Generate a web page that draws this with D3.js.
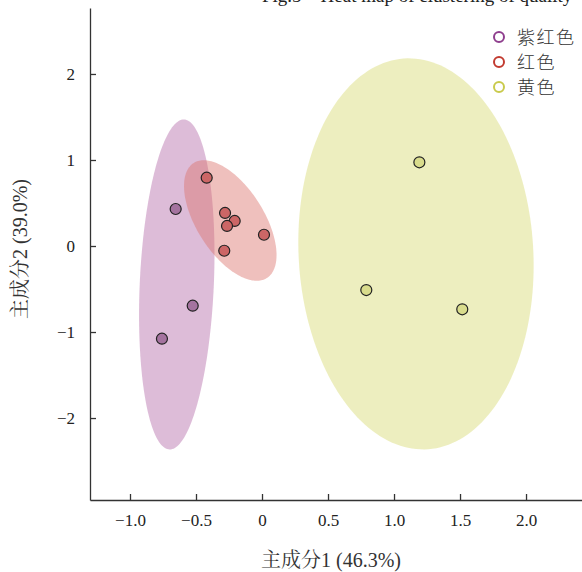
<!DOCTYPE html>
<html>
<head>
<meta charset="utf-8">
<script src="https://cdn.jsdelivr.net/npm/d3@7"></script>
<style>
  html, body { margin: 0; padding: 0; background: #fff; }
  svg { display: block; }
</style>
</head>
<body>
<svg id="chart" width="582" height="572"></svg>
<script>
// PCA scores per colour group (PC1, PC2)
const groups = ["紫红色", "红色", "黄色"];
const purplePC1 = [-0.654, -0.525, -0.758];
const purplePC2 = [0.43, -0.694, -1.078];
const redPC1 = [-0.419, -0.280, -0.207, -0.265, 0.015, -0.286];
const redPC2 = [0.794, 0.384, 0.291, 0.233, 0.131, -0.055];
const yellowPC1 = [1.192, 0.790, 1.517];
const yellowPC2 = [0.973, -0.512, -0.736];

const xTicks = [-1, -0.5, 0, 0.5, 1, 1.5, 2];
const xTickLabels = ["−1.0", "−0.5", "0", "0.5", "1.0", "1.5", "2.0"];
const yTicks = [-2, -1, 0, 1, 2];
const yTickLabels = ["−2", "−1", "0", "1", "2"];

const xTitle = "主成分1 (46.3%)";
const yTitle = "主成分2 (39.0%)";
const caption = "Fig.5    Heat map of clustering of quality";

const groupStyle = [
  { fill: "#b46aa9", point: "#a4739f", legend: "#8f3f8e" },
  { fill: "#dc746c", point: "#cc6666", legend: "#c23b30" },
  { fill: "#d6d970", point: "#d9dc8c", legend: "#c9ca4c" }
];

const series = [
  { name: groups[0], xs: purplePC1, ys: purplePC2, style: groupStyle[0] },
  { name: groups[1], xs: redPC1, ys: redPC2, style: groupStyle[1] },
  { name: groups[2], xs: yellowPC1, ys: yellowPC2, style: groupStyle[2] }
];

const svg = d3.select("#chart");
const plot = { left: 90, right: 582, top: 8, bottom: 500 };

const x = d3.scaleLinear().domain([-1.303, 2.424]).range([plot.left, plot.right]);
const y = d3.scaleLinear().domain([-2.953, 2.767]).range([plot.bottom, plot.top]);

const serif = "'Liberation Serif', 'Times New Roman', 'Noto Serif CJK SC', 'Noto Sans CJK SC', serif";

// figure caption, running off the top edge of the page
svg.append("text")
  .attr("x", 262).attr("y", 2)
  .attr("font-family", serif).attr("font-size", 19)
  .attr("fill", "#222")
  .style("white-space", "pre")
  .text(caption);

// 95% normal confidence ellipse from sample covariance
const k = Math.sqrt(5.991);
function ellipsePath(xs, ys) {
  const n = xs.length;
  const mx = d3.mean(xs), my = d3.mean(ys);
  let sxx = 0, syy = 0, sxy = 0;
  for (let i = 0; i < n; i++) {
    const dx = xs[i] - mx, dy = ys[i] - my;
    sxx += dx * dx; syy += dy * dy; sxy += dx * dy;
  }
  sxx /= (n - 1); syy /= (n - 1); sxy /= (n - 1);
  const tr = sxx + syy, det = sxx * syy - sxy * sxy;
  const disc = Math.sqrt(Math.max(0, tr * tr / 4 - det));
  const l1 = tr / 2 + disc, l2 = Math.max(0, tr / 2 - disc);
  let vx, vy;
  if (Math.abs(sxy) > 1e-12) { vx = l1 - syy; vy = sxy; }
  else if (sxx >= syy) { vx = 1; vy = 0; }
  else { vx = 0; vy = 1; }
  const len = Math.hypot(vx, vy);
  vx /= len; vy /= len;
  const a = k * Math.sqrt(l1), b = k * Math.sqrt(l2);
  const pts = d3.range(0, 361, 2).map(deg => {
    const t = deg * Math.PI / 180;
    const u = a * Math.cos(t), w = b * Math.sin(t);
    return [x(mx + u * vx - w * vy), y(my + u * vy + w * vx)];
  });
  return d3.line()(pts) + "Z";
}

const ellG = svg.append("g");
[series[2], series[0], series[1]].forEach(s => {
  ellG.append("path")
    .attr("d", ellipsePath(s.xs, s.ys))
    .attr("fill", s.style.fill)
    .attr("fill-opacity", 0.45)
    .attr("stroke", "none");
});

// axes
const xAxis = d3.axisBottom(x).tickValues(xTicks)
  .tickFormat((d, i) => xTickLabels[i]).tickSizeInner(-6).tickSizeOuter(0).tickPadding(14);
const gx = svg.append("g").attr("transform", `translate(0,${plot.bottom})`).call(xAxis);
gx.select(".domain").attr("stroke", "#333").attr("stroke-width", 1.3);
gx.selectAll(".tick line").attr("stroke", "#333").attr("stroke-width", 1.3);
gx.selectAll(".tick text").attr("font-family", serif).attr("font-size", 17).attr("fill", "#222");

const yAxis = d3.axisLeft(y).tickValues(yTicks)
  .tickFormat((d, i) => yTickLabels[i]).tickSizeInner(-6).tickSizeOuter(0).tickPadding(15);
const gy = svg.append("g").attr("transform", `translate(${plot.left},0)`).call(yAxis);
gy.select(".domain").attr("stroke", "#333").attr("stroke-width", 1.3);
gy.selectAll(".tick line").attr("stroke", "#333").attr("stroke-width", 1.3);
gy.selectAll(".tick text").attr("font-family", serif).attr("font-size", 17).attr("fill", "#222");

// points
const ptG = svg.append("g");
series.forEach(s => {
  ptG.selectAll(null)
    .data(s.xs.map((v, i) => [v, s.ys[i]]))
    .join("circle")
    .attr("cx", d => x(d[0]))
    .attr("cy", d => y(d[1]))
    .attr("r", 5.5)
    .attr("fill", s.style.point)
    .attr("stroke", "#222")
    .attr("stroke-width", 1.2);
});

// axis titles
svg.append("text")
  .attr("x", 331).attr("y", 567)
  .attr("text-anchor", "middle")
  .attr("font-family", serif).attr("font-size", 20).attr("fill", "#333")
  .text(xTitle);

svg.append("text")
  .attr("transform", "translate(27,249) rotate(-90)")
  .attr("text-anchor", "middle")
  .attr("font-family", serif).attr("font-size", 20).attr("fill", "#333")
  .text(yTitle);

// legend
const lg = svg.append("g");
series.forEach((s, i) => {
  const cy = 37 + i * 25;
  lg.append("circle")
    .attr("cx", 499).attr("cy", cy).attr("r", 5)
    .attr("fill", "none").attr("stroke", s.style.legend).attr("stroke-width", 2);
  lg.append("text")
    .attr("x", 517).attr("y", cy + 6.5)
    .attr("font-family", "'Noto Sans CJK SC', sans-serif")
    .attr("font-size", 18).attr("font-weight", 300)
    .attr("letter-spacing", 1.5).attr("fill", "#333")
    .text(s.name);
});
</script>
</body>
</html>
